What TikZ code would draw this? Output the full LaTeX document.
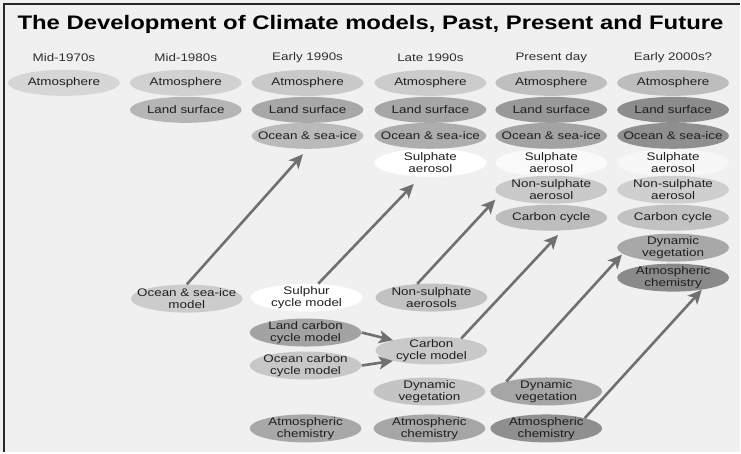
\documentclass[tikz,border=0pt]{standalone}
\usepackage{fontspec}
\setmainfont{Liberation Sans}[FakeStretch=1.22]
\usetikzlibrary{shapes.geometric,arrows.meta}
\begin{document}
\begin{tikzpicture}[x=1pt,y=1pt]
\tikzstyle{every node}+=[inner sep=0pt]
\tikzstyle{comp}=[ellipse, minimum width=112pt, minimum height=26pt, inner xsep=-25pt, inner ysep=-5pt, align=center, text=black!88, font=\fontsize{11}{11.8}\selectfont]
\tikzstyle{comp2}=[comp, minimum height=28pt]
\tikzstyle{period}=[text=black!82, font=\fontsize{11}{11}\selectfont]
\tikzstyle{flow}=[draw=black!56, line width=2.6pt, -{Stealth[length=14pt,width=13pt,inset=3.5pt]}]
\fill [black!6] (0,0) rectangle (741,-453);
\draw [black!85, line width=2pt] (4,-453) -- (4,-4) -- (741,-4);
\node (title) at (371,-24) {\fontsize{19.6}{22}\selectfont\bfseries The Development of Climate models, Past, Present and Future};
\node [period] (p1) at (64,-58) {Mid-1970s};
\node [period] (p2) at (186,-58) {Mid-1980s};
\node [period] (p3) at (308,-58) {Early 1990s};
\node [period] (p4) at (431,-58) {Late 1990s};
\node [period] (p5) at (552,-58) {Present day};
\node [period] (p6) at (674,-58) {Early 2000s?};
\node [comp, fill=black!16] (atm1) at (64,-83) {Atmosphere};
\node [comp, fill=black!18] (atm2) at (186,-83) {Atmosphere};
\node [comp, fill=black!29] (land2) at (186,-110) {Land surface};
\node [comp, fill=black!21] (atm3) at (308,-83) {Atmosphere};
\node [comp, fill=black!34] (land3) at (308,-110) {Land surface};
\node [comp, fill=black!27] (ocn3) at (308,-136) {Ocean \& sea-ice};
\node [comp, fill=black!20] (atm4) at (431,-83) {Atmosphere};
\node [comp, fill=black!35] (land4) at (431,-110) {Land surface};
\node [comp, fill=black!32] (ocn4) at (431,-136) {Ocean \& sea-ice};
\node [comp2, fill=white] (sulph4) at (431,-163) {Sulphate\\aerosol};
\node [comp, fill=black!25] (atm5) at (552,-83) {Atmosphere};
\node [comp, fill=black!40] (land5) at (552,-110) {Land surface};
\node [comp, fill=black!36] (ocn5) at (552,-136) {Ocean \& sea-ice};
\node [comp2, fill=black!2] (sulph5) at (552,-163) {Sulphate\\aerosol};
\node [comp2, fill=black!21] (nsulph5) at (552,-190) {Non-sulphate\\aerosol};
\node [comp, fill=black!26] (carb5) at (552,-218) {Carbon cycle};
\node [comp, fill=black!26] (atm6) at (674,-83) {Atmosphere};
\node [comp, fill=black!45] (land6) at (674,-110) {Land surface};
\node [comp, fill=black!44] (ocn6) at (674,-136) {Ocean \& sea-ice};
\node [comp2, fill=black!3] (sulph6) at (674,-163) {Sulphate\\aerosol};
\node [comp2, fill=black!19] (nsulph6) at (674,-190) {Non-sulphate\\aerosol};
\node [comp, fill=black!24] (carb6) at (674,-218) {Carbon cycle};
\node [comp2, fill=black!34] (dveg6) at (674,-248) {Dynamic\\vegetation};
\node [comp2, fill=black!46] (achem6) at (674,-278) {Atmospheric\\chemistry};
\node [comp2, fill=black!20] (ocnmod2) at (187,-299) {Ocean \& sea-ice\\model};
\node [comp2, fill=white] (sulmod3) at (307,-298) {Sulphur\\cycle model};
\node [comp2, fill=black!36] (lcmod3) at (306,-333) {Land carbon\\cycle model};
\node [comp2, fill=black!22] (ocmod3) at (306,-366) {Ocean carbon\\cycle model};
\node [comp2, fill=black!34] (achemmod3) at (306,-429) {Atmospheric\\chemistry};
\node [comp2, fill=black!24] (nsamod4) at (432,-298) {Non-sulphate\\aerosols};
\node [comp2, fill=black!21] (ccmod4) at (432,-351) {Carbon\\cycle model};
\node [comp2, fill=black!23] (dvmod4) at (430,-392) {Dynamic\\vegetation};
\node [comp2, fill=black!35] (achemmod4) at (430,-429) {Atmospheric\\chemistry};
\node [comp2, fill=black!35] (dvmod5) at (547,-392) {Dynamic\\vegetation};
\node [comp2, fill=black!44] (achemmod5) at (547,-429) {Atmospheric\\chemistry};
\draw [flow, shorten >=7pt] (ocnmod2.north) -- (ocn3.south);
\draw [flow, shorten >=10pt] (sulmod3.50) -- (sulph4.235);
\draw [flow, shorten >=6pt] (nsamod4.136) -- (nsulph5.186);
\draw [flow, shorten >=6pt] (ccmod4.22) -- (carb5.310);
\draw [flow, shorten >=1pt] (dvmod5.166) -- (dveg6.187);
\draw [flow] (achemmod5.15) -- (achem6.337);
\draw [flow] (lcmod3.east) -- (ccmod4.165);
\draw [flow] (ocmod3.east) -- (ccmod4.195);
\end{tikzpicture}
\end{document}
